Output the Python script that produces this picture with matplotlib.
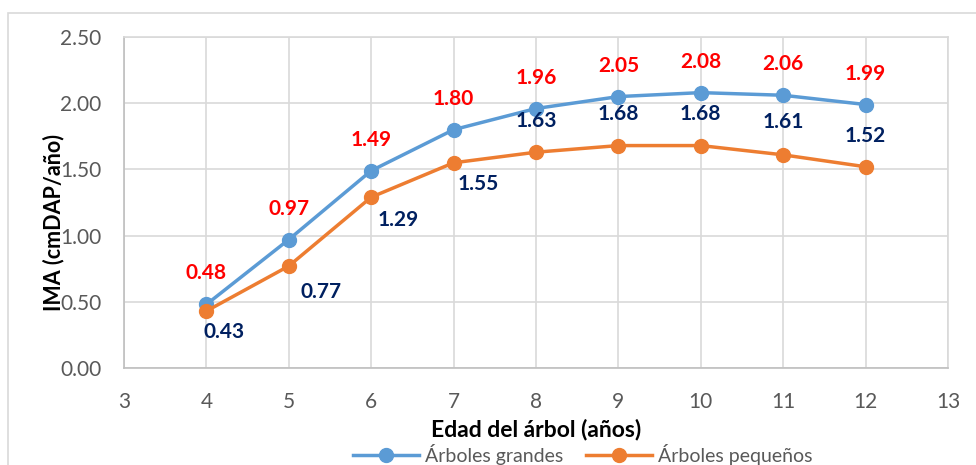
import matplotlib
matplotlib.use("Agg")
import matplotlib.pyplot as plt
from matplotlib.patches import Rectangle

plt.rcParams['font.family'] = ['Lato', 'DejaVu Sans']

# data
edad = [4, 5, 6, 7, 8, 9, 10, 11, 12]
grandes = [0.48, 0.97, 1.49, 1.80, 1.96, 2.05, 2.08, 2.06, 1.99]
pequenos = [0.43, 0.77, 1.29, 1.55, 1.63, 1.68, 1.68, 1.61, 1.52]
x_ticks = [3, 4, 5, 6, 7, 8, 9, 10, 11, 12, 13]
y_ticks = [0.0, 0.5, 1.0, 1.5, 2.0, 2.5]

# label offsets for the small-tree series (pixels, as placed in the original)
off_peq = [(18, -21), (32, -26), (27, -23), (25, -21),
           (0, 31), (0, 32), (0, 32), (0, 33), (0, 31)]

azul = '#5B9BD5'
naranja = '#ED7D31'
gris = '#595959'

fig = plt.figure(figsize=(9.76, 4.65), dpi=100)
ax = fig.add_axes([0.127, 0.2086, 0.8443, 0.7118])

# outer chart border
fig.patches.append(Rectangle((8 / 976, -0.1), 1.2, 1 - 13 / 465 + 0.1,
                             transform=fig.transFigure, fill=False,
                             edgecolor='#D9D9D9', linewidth=1.2))

ax.plot(edad, grandes, color=azul, lw=2.5, marker='o', ms=10,
        label='Árboles grandes', zorder=3)
ax.plot(edad, pequenos, color=naranja, lw=2.5, marker='o', ms=10,
        label='Árboles pequeños', zorder=3)

for x, y in zip(edad, grandes):
    ax.annotate('%.2f' % y, (x, y), xytext=(0, 31), textcoords='offset pixels',
                ha='center', va='center', color='#FF0000',
                fontsize=15, fontweight='bold')
for (x, y), (dx, dy) in zip(zip(edad, pequenos), off_peq):
    ax.annotate('%.2f' % y, (x, y), xytext=(dx, dy), textcoords='offset pixels',
                ha='center', va='center', color='#002060',
                fontsize=15, fontweight='bold')

ax.set_xlim(3, 13)
ax.set_ylim(0, 2.5)
ax.set_xticks(x_ticks)
ax.set_yticks(y_ticks)
ax.set_yticklabels(['%.2f' % v for v in y_ticks])
ax.tick_params(length=0, labelsize=15, labelcolor=gris)
ax.tick_params(axis='x', pad=17)
ax.tick_params(axis='y', pad=16)
ax.grid(True, color='#D9D9D9', lw=1.2)
ax.set_axisbelow(True)
for s in ax.spines.values():
    s.set_color('#D9D9D9')
    s.set_linewidth(1.2)
ax.spines['left'].set_color('#BFBFBF')
ax.spines['bottom'].set_color('#BFBFBF')

ax.set_xlabel('Edad del árbol (años)', fontsize=16.5, fontweight='bold')
ax.set_ylabel('IMA (cmDAP/año)', fontsize=15.5, fontweight='bold')
ax.xaxis.set_label_coords(0.5006, -0.187)
ax.yaxis.set_label_coords(-0.085, 0.441)
ax.xaxis.label.set_va('center')
ax.yaxis.label.set_va('center')

fig.legend(loc='center', bbox_to_anchor=(0.597, 0.022), ncol=2, frameon=False,
           fontsize=14, labelcolor=gris, handlelength=3.4, handletextpad=0.3,
           columnspacing=1.2)

fig.savefig('out.png', dpi=100)
